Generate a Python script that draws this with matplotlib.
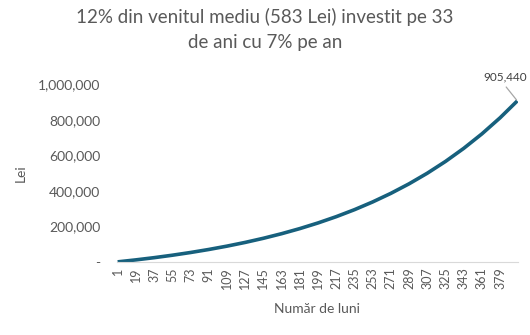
import matplotlib
matplotlib.use("Agg")
import matplotlib.pyplot as plt
from matplotlib.ticker import FuncFormatter

months = [1, 19, 37, 55, 73, 91, 109, 127, 145, 163, 181, 199, 217, 235, 253,
          271, 289, 307, 325, 343, 361, 379, 396]
values = [586, 11747, 24140, 37897, 53175, 70141, 88973, 109888, 133110, 158898,
          187529, 219323, 254622, 293816, 337338, 385664, 439321, 498904, 565060,
          638517, 720086, 810655, 905440]
tick_months = [1, 19, 37, 55, 73, 91, 109, 127, 145, 163, 181, 199, 217, 235, 253,
               271, 289, 307, 325, 343, 361, 379]
y_ticks = [0, 200000, 400000, 600000, 800000, 1000000]
title = "12% din venitul mediu (583 Lei) investit pe 33\nde ani cu 7% pe an"
final_label = "905,440"

plt.rcParams['font.family'] = ['Lato', 'DejaVu Sans']
fig = plt.figure(figsize=(5.3, 3.35), dpi=100)
ax = fig.add_axes([0.221, 0.218, 0.756, 0.531])

ax.plot(months, values, color="#17607d", lw=2.6, solid_capstyle="butt")
ax.set_xlim(0.5, 396.5)
ax.set_ylim(0, 1000000)
ax.set_xticks(tick_months)
ax.set_xticklabels([str(m) for m in tick_months], rotation=90, fontsize=9, color="#595959")
ax.set_yticks(y_ticks)
ax.yaxis.set_major_formatter(FuncFormatter(lambda v, p: "-" if v == 0 else f"{int(v):,}"))
ax.tick_params(axis="y", labelsize=10, labelcolor="#595959", length=0, pad=12)
ax.tick_params(axis="x", length=0, pad=4)
for s in ["top", "right", "left"]:
    ax.spines[s].set_visible(False)
ax.spines["bottom"].set_color("#d9d9d9")
ax.spines["bottom"].set_linewidth(0.8)

ax.set_ylabel("Lei", fontsize=10, color="#595959", labelpad=8)
ax.set_xlabel("Număr de luni", fontsize=10, color="#595959", labelpad=10)
fig.suptitle(title, fontsize=13.5, color="#595959", y=0.975, linespacing=1.55)

ax.annotate(final_label, xy=(months[-1], values[-1]), xytext=(-9, 17),
            textcoords="offset points", ha="center", va="center", fontsize=8.5,
            color="#404040", annotation_clip=False)
ax.annotate("", xy=(months[-1], values[-1]), xytext=(-8, 10),
            textcoords="offset points",
            arrowprops=dict(arrowstyle="-", color="#a6a6a6", lw=0.9,
                            shrinkA=0, shrinkB=1),
            annotation_clip=False)

fig.savefig("out.png", dpi=100)
